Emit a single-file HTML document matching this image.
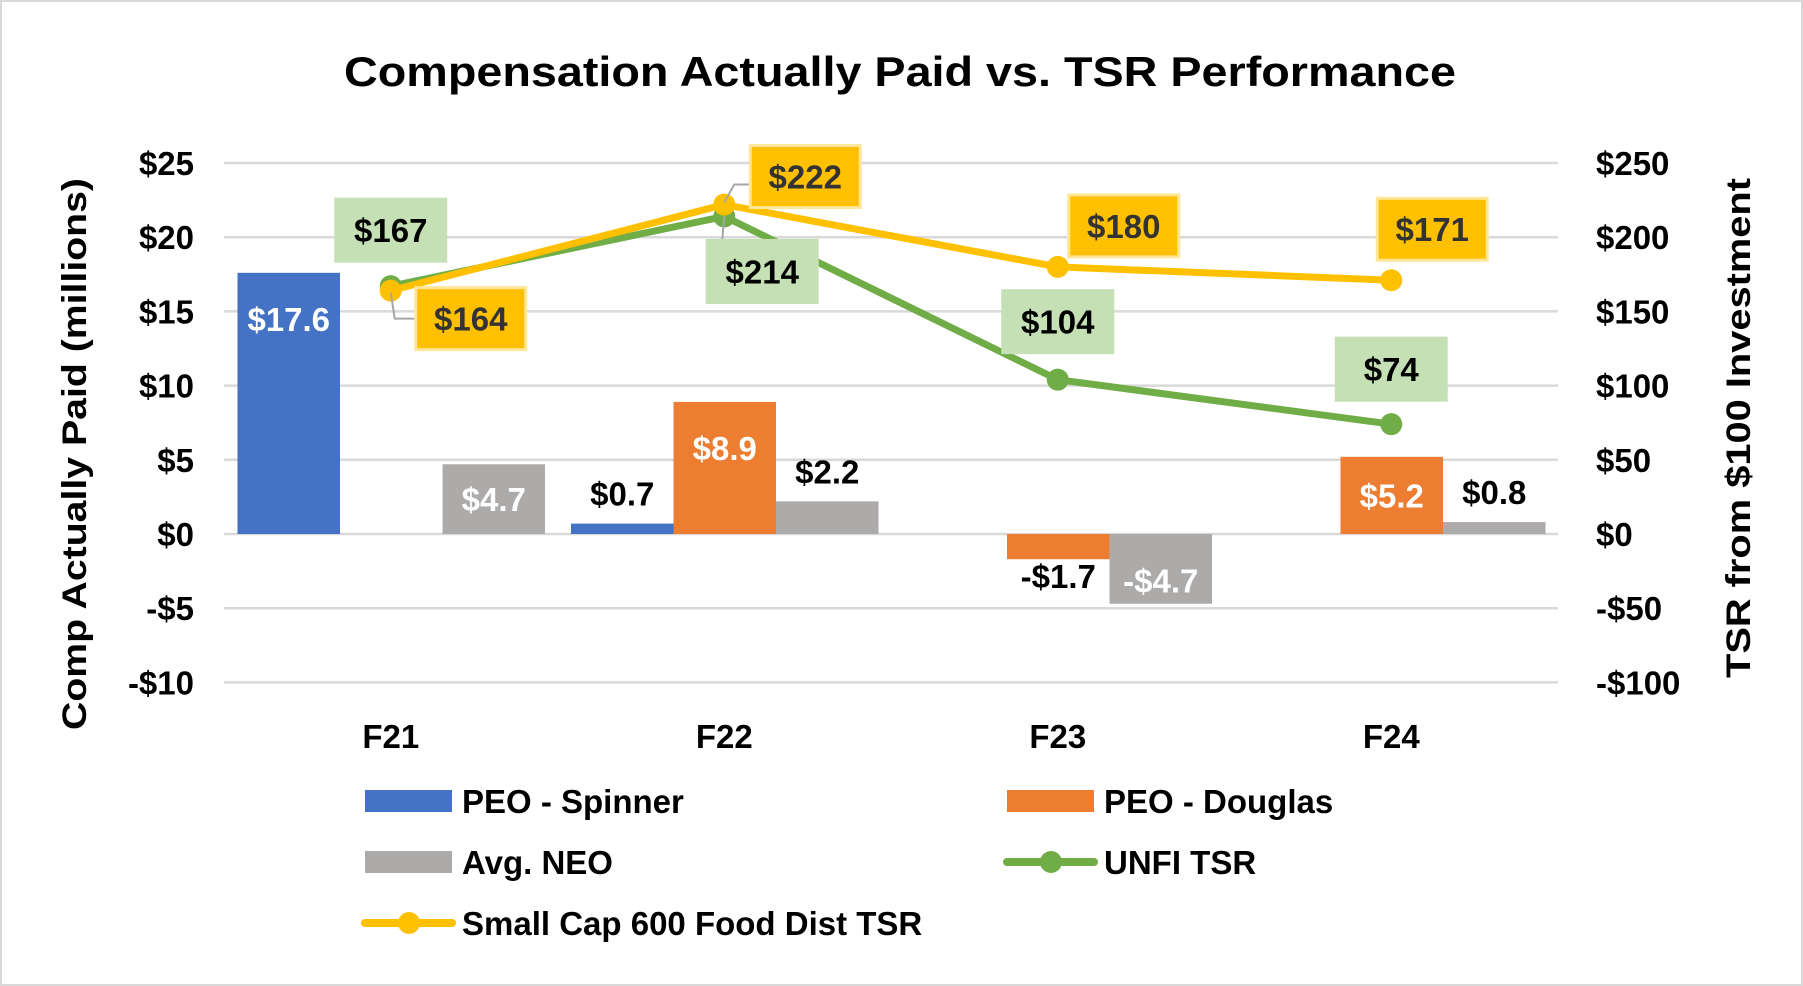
<!DOCTYPE html>
<html><head><meta charset="utf-8">
<style>
html,body{margin:0;padding:0;background:#fff;}
svg{display:block;font-family:"Liberation Sans",sans-serif;font-weight:bold;}
</style></head>
<body>
<svg id="chart" width="1803" height="986" viewBox="0 0 1803 986" xmlns="http://www.w3.org/2000/svg">
<rect x="1" y="1" width="1801" height="984" fill="#fff" stroke="#d9d9d9" stroke-width="2"/>
<text x="900" y="86" text-anchor="middle" font-size="42" textLength="1112" lengthAdjust="spacingAndGlyphs">Compensation Actually Paid vs. TSR Performance</text>
<g id="grid"></g>
<g id="bars"></g>
<g id="lines"></g>
<g id="labels"></g>
<g id="axes"></g>
<text transform="translate(86,454) rotate(-90)" text-anchor="middle" font-size="34" textLength="552" lengthAdjust="spacingAndGlyphs">Comp Actually Paid (millions)</text>
<text transform="translate(1750,428) rotate(-90)" text-anchor="middle" font-size="34" textLength="500" lengthAdjust="spacingAndGlyphs">TSR from $100 Investment</text>
<g id="legend"></g>
</svg>
<script>
const categories = ["F21","F22","F23","F24"];
const spinner = [17.6, 0.7, null, null];
const douglas = [null, 8.9, -1.7, 5.2];
const avgNeo = [4.7, 2.2, -4.7, 0.8];
const unfiTsr = [167, 214, 104, 74];
const smallCapTsr = [164, 222, 180, 171];
const leftTicks = [25,20,15,10,5,0,-5,-10];
const rightTicks = [250,200,150,100,50,0,-50,-100];

const NS="http://www.w3.org/2000/svg";
const plotL=224, plotR=1558, y0=534, perUnit=14.84;
const catW=(plotR-plotL)/categories.length;
const yL=v=>y0-v*perUnit;
const yR=v=>y0-(v/10)*perUnit;
const xC=i=>plotL+catW*(i+0.5);
function mk(tag,attrs,parent){const e=document.createElementNS(NS,tag);for(const k in attrs)e.setAttribute(k,attrs[k]);parent.appendChild(e);return e;}
const grid=document.getElementById('grid'),bars=document.getElementById('bars'),lines=document.getElementById('lines'),labels=document.getElementById('labels'),axes=document.getElementById('axes'),legend=document.getElementById('legend');

leftTicks.forEach((t,i)=>{
  const g=mk('line',{x1:plotL,x2:plotR,y1:yL(t),y2:yL(t),stroke:'#d9d9d9','stroke-width':2.5},grid);
  
  
  const lt=mk('text',{x:194,y:yL(t)+12,'text-anchor':'end','font-size':33},axes);
  lt.textContent=(t<0?'-$'+(-t):'$'+t);
  
  
  const rv=rightTicks[i];
  const rt=mk('text',{x:1596,y:yR(rv)+12,'text-anchor':'start','font-size':33},axes);
  rt.textContent=(rv<0?'-$'+(-rv):'$'+rv);
  
  
});
categories.forEach((c,i)=>{
  const t=mk('text',{x:xC(i),y:748,'text-anchor':'middle','font-size':33},axes);
  t.textContent=c;
  
  
});

const barW=102.5, groupStart=13.5;
const series=[{d:spinner,c:'#4472C4',n:'spinner'},{d:douglas,c:'#ED7D31',n:'douglas'},{d:avgNeo,c:'#ADAAAA',n:'avg-neo'}];
const inside={'spinner':[true,false],'douglas':[true,true,false,true],'avg-neo':[true,false,true,false]};
series.forEach((s,si)=>{
  s.d.forEach((v,i)=>{
    if(v===null)return;
    const x=plotL+catW*i+groupStart+barW*si;
    const top=Math.min(yL(v),y0),h=Math.abs(yL(v)-y0);
    const r=mk('rect',{x:x,y:top,width:barW,height:Math.max(h,1),fill:s.c},bars);
    
    
    const inn=inside[s.n][i];
    let cy;
    if(inn){
      if(v>=0) cy = h>100 ? yL(v)+46 : (yL(v)+y0)/2;
      else cy = yL(v)-23;
    } else { cy = v>=0 ? yL(v)-30 : yL(v)+17; }
    const txt=(v<0?'-$'+(-v).toFixed(1):'$'+v.toFixed(1));
    const t=mk('text',{x:x+barW/2,y:cy+12,'text-anchor':'middle','font-size':33,fill:inn?'#fff':'#000'},labels);
    t.textContent=txt;
    
    
  });
});

function drawLine(data,color,name){
  const pts=data.map((v,i)=>xC(i)+','+yR(v)).join(' ');
  const p=mk('polyline',{points:pts,fill:'none',stroke:color,'stroke-width':7,'stroke-linejoin':'round'},lines);
  
  
  data.forEach((v,i)=>{
    const c=mk('circle',{cx:xC(i),cy:yR(v),r:11,fill:color},lines);
    
    
  });
}
drawLine(unfiTsr,'#70AD47','unfi-tsr');
drawLine(smallCapTsr,'#FFC000','small-cap-tsr');

const unfiOff=[[0,-56],[38,55],[0,-58],[0,-55]];
const scOff=[[80,28],[81,-28],[66,-41],[41,-51]];
function boxLabels(data,off,fill,stroke,txtColor,name,leaders){
  data.forEach((v,i)=>{
    const cx=xC(i)+off[i][0], cy=yR(v)+off[i][1];
    if(leaders[i]){
      const l=mk('polyline',{points:leaders[i](xC(i),yR(v),cx,cy),fill:'none',stroke:'#a6a6a6','stroke-width':2},labels);
      
      
    }
    const r=mk('rect',{x:cx-55,y:cy-31,width:110,height:62,fill:fill,stroke:stroke,'stroke-width':3},labels);
    
    
    const t=mk('text',{x:cx,y:cy+12,'text-anchor':'middle','font-size':33,fill:txtColor},labels);
    t.textContent='$'+v;
    
    
  });
}
boxLabels(unfiTsr,unfiOff,'#C5E0B4','#C5E0B4','#000','unfi-tsr',[null,(px,py,cx,cy)=>`${px},${py} ${cx-40},${cy-31}`,null,null]);
boxLabels(smallCapTsr,scOff,'#FFC000','#FFE699','#333','small-cap-tsr',[(px,py,cx,cy)=>`${px},${py+2} ${px+4},${cy} ${cx-55},${cy}`,(px,py,cx,cy)=>`${px},${py-2} ${px+10},${cy+8} ${cx-55},${cy+8}`,null,null]);

const leg=[
 {n:'PEO - Spinner',c:'#4472C4',t:'bar',x:365,y:801},
 {n:'PEO - Douglas',c:'#ED7D31',t:'bar',x:1007,y:801},
 {n:'Avg. NEO',c:'#ADAAAA',t:'bar',x:365,y:862},
 {n:'UNFI TSR',c:'#70AD47',t:'line',x:1007,y:862},
 {n:'Small Cap 600 Food Dist TSR',c:'#FFC000',t:'line',x:365,y:923}
];
leg.forEach(e=>{
  const g=mk('g',{},legend);
  
  
  if(e.t==='bar') mk('rect',{x:e.x,y:e.y-11,width:87,height:22,fill:e.c},g);
  else { mk('line',{x1:e.x,x2:e.x+87,y1:e.y,y2:e.y,stroke:e.c,'stroke-width':8,'stroke-linecap':'round'},g); mk('circle',{cx:e.x+44,cy:e.y,r:11,fill:e.c},g); }
  const t=mk('text',{x:e.x+97,y:e.y+12,'font-size':33},g);
  t.textContent=e.n;
});
</script>
</body></html>
